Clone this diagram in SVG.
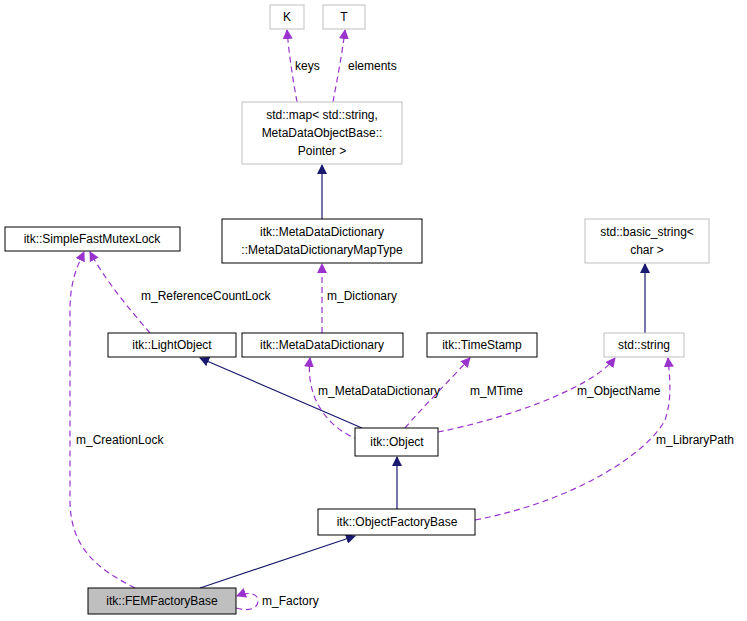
<svg xmlns="http://www.w3.org/2000/svg" width="747" height="621" viewBox="0 0 747 621">
<style>
text{font-family:"Liberation Sans",Arial,sans-serif;font-size:12px;fill:#000}
.b{fill:#fff;stroke:#000;stroke-width:1}
.g{fill:#fff;stroke:#bfbfbf;stroke-width:1}
.s{fill:none;stroke:#191970;stroke-width:1.2}
.d{fill:none;stroke:#9a32cd;stroke-width:1.2;stroke-dasharray:6,4}
</style>
<defs>
<marker id="an" markerWidth="10" markerHeight="10" refX="9" refY="5" orient="auto" markerUnits="userSpaceOnUse"><path d="M0,0 L10,5 L0,10 z" fill="#191970"/></marker>
<marker id="ap" markerWidth="10" markerHeight="10" refX="9" refY="5" orient="auto" markerUnits="userSpaceOnUse"><path d="M0,0 L10,5 L0,10 z" fill="#9a32cd"/></marker>
</defs>
<rect width="747" height="621" fill="#fff"/>
<g id="edges">
<path class="d" marker-end="url(#ap)" d="M297,102 C293,80 289,55 287,30"/>
<path class="d" marker-end="url(#ap)" d="M333,102 C337,80 342,55 345,30"/>
<path class="s" marker-end="url(#an)" d="M322,219 L322,165"/>
<path class="d" marker-end="url(#ap)" d="M322,333 L322,264"/>
<path class="s" marker-end="url(#an)" d="M645,333 L645,264"/>
<path class="d" marker-end="url(#ap)" d="M150,333 C130,310 105,280 90,252"/>
<path class="d" marker-end="url(#ap)" d="M135,588 C100,570 70,550 70,500 L70,310 C70,280 78,265 84,252"/>
<path class="s" marker-end="url(#an)" d="M362,428 L200,358"/>
<path class="d" marker-end="url(#ap)" d="M360,440 C330,430 305,400 310,358"/>
<path class="d" marker-end="url(#ap)" d="M405,428 C420,410 450,380 470,358"/>
<path class="d" marker-end="url(#ap)" d="M438,432 C500,420 590,390 615,358"/>
<path class="d" marker-end="url(#ap)" d="M475,520 C580,500 650,450 665,420 C672,400 670,380 668,358"/>
<path class="s" marker-end="url(#an)" d="M397,509 L397,457"/>
<path class="s" marker-end="url(#an)" d="M200,588 L355,536"/>
<path class="d" marker-end="url(#ap)" d="M236,608 C250,612 258,608 258,601 C258,594 250,591 237,596"/>
</g>
<g id="K"><rect class="g" x="270" y="5" width="34" height="24"/><text x="287" y="21" text-anchor="middle">K</text></g>
<g id="T"><rect class="g" x="323" y="5" width="42" height="24"/><text x="344" y="21" text-anchor="middle">T</text></g>
<g id="map"><rect class="g" x="242" y="102" width="160" height="62"/><text x="322" y="119" text-anchor="middle">std::map&lt; std::string,</text><text x="322" y="137" text-anchor="middle">MetaDataObjectBase::</text><text x="322" y="155" text-anchor="middle">Pointer &gt;</text></g>
<g id="maptype"><rect class="b" x="222" y="219" width="200" height="44"/><text x="322" y="236" text-anchor="middle">itk::MetaDataDictionary</text><text x="322" y="254" text-anchor="middle">::MetaDataDictionaryMapType</text></g>
<g id="bstring"><rect class="g" x="585" y="219" width="124" height="44"/><text x="647" y="236" text-anchor="middle">std::basic_string&lt;</text><text x="647" y="254" text-anchor="middle">char &gt;</text></g>
<g id="mutex"><rect class="b" x="5" y="227" width="175" height="24"/><text x="92" y="243" text-anchor="middle">itk::SimpleFastMutexLock</text></g>
<g id="light"><rect class="b" x="108" y="333" width="128" height="24"/><text x="172" y="349" text-anchor="middle">itk::LightObject</text></g>
<g id="mdd"><rect class="b" x="242" y="333" width="161" height="24"/><text x="322" y="349" text-anchor="middle">itk::MetaDataDictionary</text></g>
<g id="ts"><rect class="b" x="427" y="333" width="110" height="24"/><text x="482" y="349" text-anchor="middle">itk::TimeStamp</text></g>
<g id="str"><rect class="g" x="604" y="333" width="80" height="24"/><text x="644" y="349" text-anchor="middle">std::string</text></g>
<g id="obj"><rect class="b" x="355" y="428" width="83" height="28"/><text x="397" y="446" text-anchor="middle">itk::Object</text></g>
<g id="ofb"><rect class="b" x="318" y="509" width="157" height="26"/><text x="397" y="526" text-anchor="middle">itk::ObjectFactoryBase</text></g>
<g id="fem"><rect x="88" y="588" width="148" height="26" fill="#bfbfbf" stroke="#000"/><text x="162" y="605" text-anchor="middle">itk::FEMFactoryBase</text></g>
<g id="labels">
<text x="295" y="70">keys</text>
<text x="348" y="70">elements</text>
<text x="327" y="300">m_Dictionary</text>
<text x="141" y="300">m_ReferenceCountLock</text>
<text x="76" y="444">m_CreationLock</text>
<text x="318" y="395">m_MetaDataDictionary</text>
<text x="470" y="395">m_MTime</text>
<text x="577" y="395">m_ObjectName</text>
<text x="656" y="444">m_LibraryPath</text>
<text x="262" y="605">m_Factory</text>
</g>
</svg>
